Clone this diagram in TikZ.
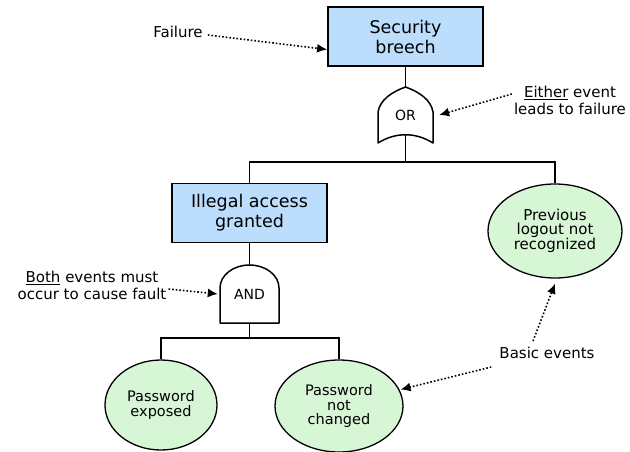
\documentclass[tikz,border=0pt]{standalone}
\usepackage{fontspec}
\setmainfont{DejaVu Sans}
\usetikzlibrary{shapes.geometric,arrows.meta,calc}
\definecolor{boxblue}{HTML}{BCDDFB}
\definecolor{basicgreen}{HTML}{D6F6D6}
\begin{document}
\begin{tikzpicture}[x=1pt,y=-1pt,
  event/.style={draw, line width=1.8pt, fill=boxblue, minimum width=155pt,
    minimum height=59pt, inner sep=0pt, align=center,
    font=\fontsize{17.5}{20}\selectfont},
  basic/.style={ellipse, draw, line width=1.3pt, fill=basicgreen, inner sep=0pt,
    align=center, font=\fontsize{14.5}{14.5}\selectfont},
  gatelabel/.style={inner sep=0pt, font=\fontsize{14}{16}\selectfont},
  gate/.style={draw, line width=1.5pt, fill=white, line join=round},
  wire/.style={draw, line width=1.5pt},
  note/.style={align=center, inner sep=2pt, font=\fontsize{15}{17}\selectfont},
  pointer/.style={dotted, line width=1.6pt, -{Latex[length=10pt,width=9pt]}},
]
\useasboundingbox (0,0) rectangle (630,451);

% top event and OR gate
\node[event] (sb) at (405.5,36.5) {Security\\breech};
\begin{scope}[shift={(405.5,115)}]
  \path[gate] (0,-28) .. controls (-14,-23) and (-25.5,-15) .. (-27.5,-3)
    -- (-27.5,28) .. controls (-10,17) and (10,17) .. (27.5,28)
    -- (27.5,-3) .. controls (25.5,-15) and (14,-23) .. (0,-28) -- cycle;
\end{scope}
\node[gatelabel, minimum width=55pt, minimum height=56pt] (or) at (405.5,115) {OR};
\coordinate (orout) at (405.5,135);
\coordinate (orsplit) at (405.5,162);

% intermediate event and AND gate
\node[event] (iag) at (249.5,213) {Illegal access\\granted};
\begin{scope}[shift={(249.5,294)}]
  \path[gate] (-29.5,29) -- (-29.5,-6) .. controls (-29.5,-19) and (-16,-29) .. (0,-29)
    .. controls (16,-29) and (29.5,-19) .. (29.5,-6) -- (29.5,29) -- cycle;
\end{scope}
\node[gatelabel, minimum width=59pt, minimum height=58pt] (and) at (249.5,294) {\raisebox{-4pt}{AND}};
\coordinate (andsplit) at (249.5,338);

% basic events
\node[basic, minimum width=134pt, minimum height=94pt,
  font=\fontsize{15}{13.5}\selectfont] (plnr) at (555,231)
  {Previous\\logout not\\recognized};
\node[basic, minimum width=112pt, minimum height=90pt] (pe) at (161,405)
  {Password\\exposed};
\node[basic, minimum width=128pt, minimum height=92pt] (pnc) at (339,406)
  {Password\\not\\changed};

% tree connections
\draw[wire] (sb.south) -- (or.north);
\draw[wire] (orout) -- (orsplit);
\draw[wire] (iag.north) |- (orsplit) -| (plnr.north);
\draw[wire] (iag.south) -- (and.north);
\draw[wire] (and.south) -- (andsplit);
\draw[wire] (pe.north) |- (andsplit) -| (pnc.north);

% annotations
\node[note] (fail) at (178,32) {Failure};
\draw[pointer] ($(fail.east)+(3,3)$) -- ($(sb.west)+(0,13)$);

\node[note] (either) at (570,100) {\underline{Either} event\\leads to failure};
\draw[pointer] ($(either.west)+(0,-6)$) -- ($(or.east)+(6,0)$);

\node[note] (both) at (92,285) {\underline{Both} events must\\occur to cause fault};
\draw[pointer] ($(both.east)+(0,4)$) -- ($(and.west)+(-2,0)$);

\node[note] (basicev) at (547,353) {Basic events};
\draw[pointer] ($(basicev.north)+(-14,-4)$) -- ($(plnr.south)+(0,5)$);
\draw[pointer, shorten >=1pt] ($(basicev.west)+(-6,14)$) -- (pnc.15);
\end{tikzpicture}
\end{document}
